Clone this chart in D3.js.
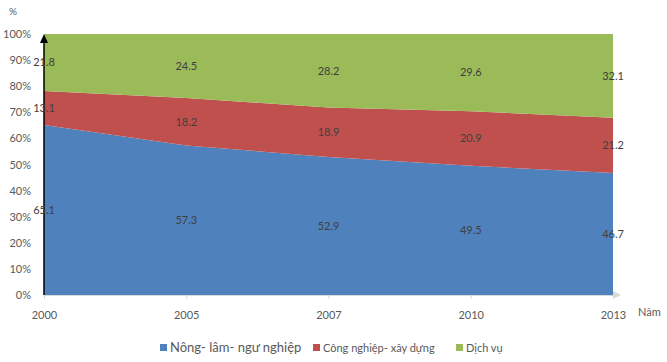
<!DOCTYPE html>
<html><head><meta charset="utf-8">
<script src="https://cdn.jsdelivr.net/npm/d3@7"></script>
<style>body{margin:0;background:#fff}svg{display:block}text{font-family:Lato,"Open Sans",sans-serif}</style>
</head><body><svg id="c" width="667" height="362"></svg>
<script>
const years = ["2000","2005","2007","2010","2013"];
const nongLamNgu = [65.1, 57.3, 52.9, 49.5, 46.7];
const congNghiep = [13.1, 18.2, 18.9, 20.9, 21.2];
const dichVu = [21.8, 24.5, 28.2, 29.6, 32.1];
const seriesNames = ["Nông- lâm- ngư nghiệp", "Công nghiệp- xây dựng", "Dịch vụ"];
const colors = ["#4F81BD", "#C0504D", "#9BBB59"];
const yTicks = [0,10,20,30,40,50,60,70,80,90,100];

const svg = d3.select("#c");
const pL = 44, pR = 613, pT = 34, pB = 295;
const x = d3.scalePoint().domain(years).range([pL, pR]);
const y = d3.scaleLinear().domain([0, 100]).range([pB, pT]);

const rows = years.map((yr, i) => ({year: yr, a: nongLamNgu[i], b: congNghiep[i], c: dichVu[i]}));
const stack = d3.stack().keys(["a","b","c"])(rows);

const area = d3.area().x(d => x(d.data.year)).y0(d => y(d[0])).y1(d => y(d[1]));
svg.append("g").selectAll("path").data(stack).join("path")
  .attr("d", area).attr("fill", (d, i) => colors[i]);

// y axis labels
const yAxis = d3.axisLeft(y).tickValues(yTicks).tickFormat(d => d + "%").tickSize(0).tickPadding(13);
const gy = svg.append("g").attr("transform", `translate(${pL},0)`).call(yAxis);
gy.select(".domain").remove();
gy.selectAll("text").attr("fill", "#595959").style("font-size", "11px").style("font-family", "Lato, 'Open Sans', sans-serif");

// x axis
const xAxis = d3.axisBottom(x).tickSize(4).tickPadding(12);
const gx = svg.append("g").attr("transform", `translate(0,${pB})`).call(xAxis);
gx.select(".domain").attr("stroke", "#d9d9d9").attr("d", `M${pL},0.5H${pR + 2}`);
gx.selectAll("line").attr("stroke", "#d9d9d9");
gx.selectAll("text").attr("fill", "#595959").style("font-size", "11px").style("font-family", "Lato, 'Open Sans', sans-serif");
// x arrow
svg.append("path").attr("d", `M${pR},${pB - 4}L${pR + 8},${pB}L${pR},${pB + 4}Z`).attr("fill", "#d9d9d9");

// y axis line with arrow
svg.append("line").attr("x1", pL).attr("x2", pL).attr("y1", pB).attr("y2", pT + 4)
  .attr("stroke", "#000").attr("stroke-width", 1.5);
svg.append("path").attr("d", `M${pL - 4},${pT + 9}L${pL},${pT}L${pL + 4},${pT + 9}Z`).attr("fill", "#000");

// data labels
stack.forEach((s) => {
  svg.append("g").selectAll("text").data(s).join("text")
    .attr("x", d => x(d.data.year))
    .attr("y", d => y((d[0] + d[1]) / 2))
    .attr("dy", "0.35em").attr("text-anchor", "middle")
    .attr("fill", "#404040").style("font-size", "11px")
    .text(d => (d[1] - d[0]).toFixed(1));
});

// axis titles
svg.append("text").attr("x", 9).attr("y", 15).attr("fill", "#595959").style("font-size", "10px").text("%");
svg.append("text").attr("x", 638).attr("y", 316).attr("fill", "#595959").style("font-size", "11px").text("Năm");

// legend
const legend = [
  {x: 160, size: 13, name: seriesNames[0], c: colors[0]},
  {x: 313, size: 11, name: seriesNames[1], c: colors[1]},
  {x: 456, size: 11, name: seriesNames[2], c: colors[2]}
];
const lg = svg.append("g");
legend.forEach(l => {
  lg.append("rect").attr("x", l.x).attr("y", 344).attr("width", 7).attr("height", 7).attr("fill", l.c);
  lg.append("text").attr("x", l.x + 10).attr("y", 351.5).attr("fill", "#595959")
    .style("font-size", l.size + "px").text(l.name);
});
</script></body></html>
